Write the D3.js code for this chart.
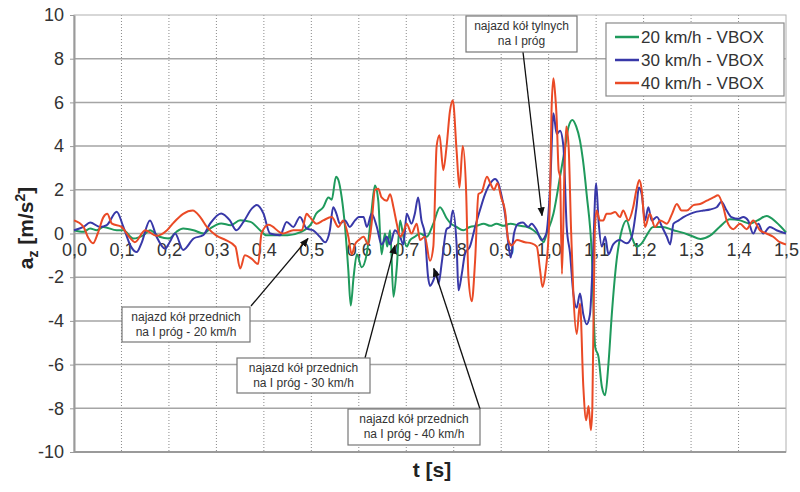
<!DOCTYPE html>
<html>
<head>
<meta charset="utf-8">
<script src="https://cdn.jsdelivr.net/npm/d3@7"></script>
<style>
  body { margin: 0; background: #fff; }
  svg { font-family: Arial, "Liberation Sans", sans-serif; }
</style>
</head>
<body>
<svg id="drawing_region"></svg>
<script>
// values: [t (s), a_z (m/s2)]
const series20 = [
  [0,0.15],[0.02,0.08],[0.034,0.23],[0.048,0.15],[0.062,0.3],[0.09,0.15],[0.104,0.15],[0.125,-0.23],
  [0.146,-0.08],[0.16,0.15],[0.18,-0.15],[0.2,-0.23],[0.216,0.08],[0.23,0.23],[0.252,0.15],[0.273,0],
  [0.287,0.23],[0.31,0.46],[0.33,0.38],[0.35,0.61],[0.372,0.53],[0.392,0.15],[0.405,-0.08],[0.43,-0.08],
  [0.45,-0.08],[0.476,0.05],[0.5,0.45],[0.51,0.9],[0.525,1.2],[0.536,1.65],[0.543,1.55],[0.552,2.6],
  [0.557,2.45],[0.564,1.65],[0.571,0.3],[0.578,-1.7],[0.583,-3.3],[0.589,-2.0],[0.596,-0.95],[0.606,-1.55],
  [0.617,-0.9],[0.627,1.05],[0.634,2.2],[0.641,1.5],[0.648,-0.95],[0.655,0.0],[0.66,-0.6],[0.666,0.15],
  [0.673,-2.9],[0.68,-1.55],[0.687,0.6],[0.694,-0.15],[0.701,-0.6],[0.708,-0.3],[0.718,-0.15],[0.729,0.0],
  [0.743,-0.15],[0.757,0.45],[0.771,1.2],[0.785,0.7],[0.792,0.5],[0.806,0.3],[0.82,0.15],[0.834,0.3],
  [0.848,0.35],[0.863,0.45],[0.877,0.35],[0.89,0.45],[0.905,0.35],[0.919,0.45],[0.94,0.35],[0.955,0.3],
  [0.968,0.15],[0.982,-0.15],[0.989,-0.4],[0.996,0.0],[1.01,0.9],[1.024,2.6],[1.035,4.0],[1.042,4.9],
  [1.05,5.2],[1.058,4.9],[1.066,4.25],[1.072,3.4],[1.08,1.8],[1.091,-1.0],[1.098,-5.2],[1.105,-5.65],
  [1.112,-7.0],[1.119,-7.4],[1.126,-5.95],[1.133,-3.7],[1.143,-1.25],[1.154,0.15],[1.164,0.6],[1.175,-0.15],
  [1.185,-0.6],[1.196,-0.45],[1.206,-0.1],[1.22,0.3],[1.24,0.3],[1.263,0.15],[1.28,0.05],[1.3,-0.1],
  [1.32,-0.25],[1.34,-0.1],[1.36,0.3],[1.382,0.65],[1.403,0.6],[1.424,0.45],[1.44,0.6],[1.459,0.8],
  [1.48,0.5],[1.5,0.05]
];

const series30 = [
  [0,0.15],[0.02,0.3],[0.034,0.5],[0.055,0.3],[0.069,0.38],[0.09,1.0],[0.104,0.3],[0.12,-0.6],
  [0.132,-0.85],[0.142,-0.45],[0.16,0.6],[0.174,-0.15],[0.192,-0.7],[0.202,-0.38],[0.213,0.0],[0.23,-0.75],
  [0.252,-0.23],[0.272,-0.08],[0.287,0.46],[0.31,0.92],[0.328,0.61],[0.342,0.15],[0.357,0.53],[0.375,1.15],
  [0.385,1.3],[0.399,0.92],[0.413,0.0],[0.434,-0.08],[0.448,0.53],[0.462,0.3],[0.476,0.76],[0.49,0.23],
  [0.504,0.14],[0.518,-0.15],[0.529,-0.4],[0.539,0.14],[0.546,1.2],[0.553,0.9],[0.56,0.45],[0.571,0.6],
  [0.581,0.3],[0.592,0.6],[0.6,0.75],[0.61,0.75],[0.617,0.3],[0.627,0.9],[0.638,0.3],[0.648,-0.5],
  [0.659,-0.15],[0.666,-0.5],[0.676,0.15],[0.687,-0.15],[0.694,-0.5],[0.701,0.9],[0.711,0.45],[0.718,0.9],
  [0.725,1.65],[0.732,0.6],[0.739,0.0],[0.746,-2.0],[0.75,-2.4],[0.757,-2.15],[0.764,-1.75],[0.768,-2.3],
  [0.775,-1.3],[0.785,0.2],[0.792,0.3],[0.798,1.05],[0.806,-0.5],[0.81,-2.6],[0.817,-1.85],[0.824,-0.9],
  [0.834,-0.6],[0.845,0.3],[0.855,1.05],[0.866,1.8],[0.877,2.3],[0.887,2.5],[0.894,2.3],[0.9,1.8],
  [0.908,0.9],[0.915,-0.45],[0.92,-1.1],[0.927,0.0],[0.936,0.45],[0.946,0.5],[0.957,0.3],[0.964,0.45],
  [0.975,0.15],[0.985,-0.3],[0.995,0.0],[1.003,2.1],[1.01,5.5],[1.017,4.55],[1.024,4.7],[1.031,4.0],
  [1.038,0.3],[1.045,-0.9],[1.052,-2.75],[1.059,-3.4],[1.066,-2.75],[1.073,-3.7],[1.08,-4.15],[1.087,-3.7],
  [1.093,-1.25],[1.1,2.3],[1.105,0.6],[1.112,-0.6],[1.119,-0.15],[1.126,-0.95],[1.136,-0.5],[1.15,-0.3],
  [1.164,-0.45],[1.175,-0.15],[1.185,1.2],[1.19,2.1],[1.196,1.8],[1.203,0.6],[1.21,1.2],[1.217,0.6],
  [1.228,0.75],[1.239,0.3],[1.249,-0.15],[1.256,-0.5],[1.263,0.45],[1.274,0.6],[1.284,0.75],[1.298,0.9],
  [1.312,1.0],[1.326,1.05],[1.34,1.1],[1.354,1.2],[1.364,1.45],[1.375,1.05],[1.385,0.75],[1.4,0.67],
  [1.41,0.75],[1.42,0.6],[1.431,0.0],[1.442,0.45],[1.452,0.0],[1.466,0.3],[1.48,0.15],[1.5,0.0]
];

const series40 = [
  [0,0.6],[0.02,0.3],[0.03,-0.2],[0.04,-0.45],[0.05,0.0],[0.062,0.75],[0.07,0.9],[0.08,0.45],
  [0.1,0.3],[0.118,-0.2],[0.128,-0.4],[0.15,0.15],[0.174,-0.1],[0.196,0.15],[0.21,0.5],[0.23,0.9],
  [0.25,1.05],[0.266,0.75],[0.28,0.3],[0.3,-0.1],[0.32,-0.3],[0.34,-0.6],[0.35,-1.6],[0.36,-1.0],
  [0.374,-1.15],[0.388,-1.4],[0.395,0.0],[0.41,0.4],[0.44,0.0],[0.462,0.15],[0.48,0.15],[0.49,0.9],
  [0.497,0.75],[0.511,0.45],[0.525,0.6],[0.543,0.75],[0.557,0.3],[0.567,0.6],[0.578,-0.15],[0.585,-0.95],
  [0.592,-0.5],[0.6,-0.3],[0.61,-0.15],[0.62,-0.5],[0.627,0.45],[0.634,2.0],[0.641,2.05],[0.648,1.65],
  [0.659,1.5],[0.666,1.8],[0.673,1.2],[0.68,0.45],[0.687,-0.15],[0.694,0.08],[0.701,0.45],[0.711,0.0],
  [0.722,0.45],[0.729,-0.3],[0.739,-0.15],[0.75,-1.25],[0.757,-0.6],[0.764,4.0],[0.77,4.5],[0.778,2.9],
  [0.785,4.0],[0.792,5.6],[0.798,6.1],[0.806,3.8],[0.812,2.1],[0.819,4.0],[0.826,2.0],[0.831,-2.0],
  [0.838,-3.1],[0.845,-1.25],[0.852,1.8],[0.859,1.9],[0.87,2.6],[0.877,2.3],[0.885,2.0],[0.892,2.3],
  [0.9,1.65],[0.908,1.05],[0.915,-0.3],[0.922,-0.55],[0.933,-0.3],[0.95,-0.4],[0.964,-0.45],[0.975,-0.6],
  [0.982,-1.7],[0.987,-2.45],[0.993,-1.8],[1.0,0.0],[1.003,1.8],[1.006,5.6],[1.01,7.1],[1.013,6.55],
  [1.017,5.2],[1.021,2.9],[1.024,2.6],[1.028,-1.85],[1.033,2.6],[1.037,4.9],[1.042,4.0],[1.047,0.3],
  [1.052,-2.75],[1.059,-4.6],[1.066,-3.2],[1.073,-7.0],[1.079,-8.55],[1.084,-7.9],[1.089,-9.0],[1.092,-8.0],
  [1.097,0.0],[1.101,1.05],[1.108,0.6],[1.115,0.6],[1.122,0.9],[1.13,0.9],[1.14,0.98],[1.15,0.75],
  [1.157,1.05],[1.168,0.6],[1.178,1.2],[1.185,2.0],[1.191,2.45],[1.196,2.0],[1.203,0.3],[1.213,0.9],
  [1.224,0.3],[1.235,0.6],[1.249,0.45],[1.26,0.9],[1.27,1.35],[1.28,1.05],[1.291,1.05],[1.305,1.3],
  [1.319,1.35],[1.333,1.5],[1.347,1.65],[1.357,1.75],[1.368,1.2],[1.375,0.6],[1.389,0.2],[1.403,0.45],
  [1.417,0.2],[1.431,0.6],[1.445,0.15],[1.459,0.0],[1.473,-0.15],[1.487,-0.4],[1.5,-0.5]
];

const seriesNames = ['20 km/h - VBOX', '30 km/h - VBOX', '40 km/h - VBOX'];
const xTicks = d3.range(0, 16).map(i => i / 10);
const yTicks = d3.range(-10, 11, 2);

const colors = ['#1f9a5c', '#3838a8', '#ea4a26'];

const width = 800, height = 492;
const margin = {top: 15, right: 14, bottom: 40, left: 74};
const innerW = width - margin.left - margin.right;
const innerH = height - margin.top - margin.bottom;

const svg = d3.select('#drawing_region')
    .attr('width', width)
    .attr('height', height);

const chart = svg.append('g')
    .attr('transform', `translate(${margin.left}, ${margin.top})`);

const xscale = d3.scaleLinear().domain([0, 1.5]).range([0, innerW]);
const yscale = d3.scaleLinear().domain([-10, 10]).range([innerH, 0]);

// grid
chart.append('g').selectAll('line')
    .data(xTicks.slice(1, -1))
    .join('line')
    .attr('x1', d => xscale(d)).attr('x2', d => xscale(d))
    .attr('y1', 0).attr('y2', innerH)
    .attr('stroke', '#8a8a8a')
    .attr('stroke-width', 1)
    .attr('stroke-dasharray', '1,2');

chart.append('g').selectAll('line')
    .data(yTicks.slice(1, -1))
    .join('line')
    .attr('x1', 0).attr('x2', innerW)
    .attr('y1', d => yscale(d)).attr('y2', d => yscale(d))
    .attr('stroke', '#a5a5a5')
    .attr('stroke-width', 1.5);

// frame
chart.append('rect')
    .attr('width', innerW).attr('height', innerH)
    .attr('fill', 'none')
    .attr('stroke', '#b0b0b0')
    .attr('stroke-width', 1);
chart.append('line')
    .attr('x1', 0).attr('x2', innerW)
    .attr('y1', innerH).attr('y2', innerH)
    .attr('stroke', '#9a9a9a').attr('stroke-width', 2);

// y axis
const yaxis = d3.axisLeft(yscale).tickValues(yTicks).tickSize(4).tickSizeOuter(0).tickPadding(6)
    .tickFormat(d => String(d));
const yg = chart.append('g').call(yaxis);
yg.select('.domain').attr('stroke', '#9a9a9a').attr('stroke-width', 2);
yg.selectAll('.tick line').attr('stroke', '#9a9a9a');
yg.selectAll('.tick text')
    .attr('font-size', 18)
    .attr('fill', '#333');

// x tick labels sit on the zero line
const xaxis = d3.axisBottom(xscale).tickValues(xTicks).tickSize(0).tickPadding(10)
    .tickFormat(d => d3.format('.1f')(d).replace('.', ','));
const xg = chart.append('g')
    .attr('transform', `translate(0, ${yscale(0)})`)
    .call(xaxis);
xg.select('.domain').remove();
xg.selectAll('.tick text')
    .attr('font-size', 18)
    .attr('fill', '#333');

// lines
const line = d3.line()
    .x(d => xscale(d[0]))
    .y(d => yscale(d[1]))
    .curve(d3.curveMonotoneX);

[series20, series30, series40].forEach((s, i) => {
    chart.append('path')
        .attr('d', line(s))
        .attr('fill', 'none')
        .attr('stroke', colors[i])
        .attr('stroke-width', 2)
        .attr('stroke-linejoin', 'round');
});

// axis titles
const yt = svg.append('text')
    .attr('transform', 'translate(33, 228) rotate(-90)')
    .attr('text-anchor', 'middle')
    .attr('font-size', 21)
    .attr('font-weight', 'bold')
    .attr('fill', '#222');
yt.append('tspan').text('a');
yt.append('tspan').attr('font-size', 14).attr('dy', 5).text('z');
yt.append('tspan').attr('dy', -5).text(' [m/s');
yt.append('tspan').attr('font-size', 14).attr('dy', -8).text('2');
yt.append('tspan').attr('dy', 8).text(']');

svg.append('text')
    .attr('x', 432).attr('y', 477)
    .attr('text-anchor', 'middle')
    .attr('font-size', 21)
    .attr('font-weight', 'bold')
    .attr('fill', '#222')
    .text('t [s]');

// legend
const legend = svg.append('g').attr('transform', 'translate(606, 23)');
legend.append('rect')
    .attr('width', 178).attr('height', 73)
    .attr('fill', '#fff')
    .attr('stroke', '#8a8a8a')
    .attr('stroke-width', 1.2);
seriesNames.forEach((name, i) => {
    const g = legend.append('g').attr('transform', `translate(0, ${14 + i * 23})`);
    g.append('line')
        .attr('x1', 9).attr('x2', 33)
        .attr('stroke', colors[i]).attr('stroke-width', 2.5);
    g.append('text')
        .attr('x', 35).attr('y', 6)
        .attr('font-size', 17)
        .attr('fill', '#333')
        .text(name);
});

// annotations (box in px, arrow tip in data coords)
const notes = [
    {lines: ['najazd kół tylnych', 'na I próg'], box: [466, 16, 111, 36], from: [523, 52], tip: [0.986, 0.82]},
    {lines: ['najazd kół przednich', 'na I próg - 20 km/h'], box: [122, 307, 128, 35], from: [251, 306], tip: [0.493, -0.23]},
    {lines: ['najazd kół przednich', 'na I próg - 30 km/h'], box: [237, 358, 133, 35], from: [365, 358], tip: [0.676, -0.55]},
    {lines: ['najazd kół przednich', 'na I próg - 40 km/h'], box: [348, 409, 132, 36], from: [480, 409], tip: [0.758, -1.6]},
];

svg.append('defs').append('marker')
    .attr('id', 'arrow')
    .attr('viewBox', '0 0 10 10')
    .attr('refX', 9).attr('refY', 5)
    .attr('markerWidth', 7).attr('markerHeight', 7)
    .attr('orient', 'auto')
    .append('path')
    .attr('d', 'M0,1 L10,5 L0,9 z')
    .attr('fill', '#111');

notes.forEach(n => {
    const tx = margin.left + xscale(n.tip[0]);
    const ty = margin.top + yscale(n.tip[1]);
    svg.append('line')
        .attr('x1', n.from[0]).attr('y1', n.from[1])
        .attr('x2', tx).attr('y2', ty)
        .attr('stroke', '#111')
        .attr('stroke-width', 1.3)
        .attr('marker-end', 'url(#arrow)');
    const [bx, by, bw, bh] = n.box;
    svg.append('rect')
        .attr('x', bx).attr('y', by).attr('width', bw).attr('height', bh)
        .attr('fill', '#fff')
        .attr('stroke', '#777')
        .attr('stroke-width', 1.2);
    n.lines.forEach((t, i) => {
        svg.append('text')
            .attr('x', bx + bw / 2).attr('y', by + 14 + i * 15)
            .attr('text-anchor', 'middle')
            .attr('font-size', 12)
            .attr('fill', '#333')
            .text(t);
    });
});
</script>
</body>
</html>
